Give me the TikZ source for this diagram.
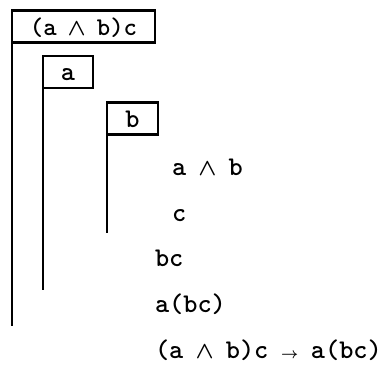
\documentclass[tikz,border=0pt]{standalone}
\usepackage{graphicx}
\usepackage{amsmath}
\newcommand{\wdg}{\makebox[0.525em]{\scalebox{0.95}{$\boldsymbol{\wedge}$}}}
\newcommand{\arr}{\makebox[0.525em]{\scalebox{0.6}{$\boldsymbol{\rightarrow}$}}}
\begin{document}
\begin{tikzpicture}[x=1pt,y=-1pt,
  every node/.style={font=\fontsize{27}{30}\selectfont\ttfamily\bfseries, inner sep=0pt, outer sep=0pt},
  boxn/.style={draw, line width=2.4pt, text height=20pt, text depth=3pt, minimum height=32pt},
  bar/.style={line width=2.8pt},
  txt/.style={anchor=base west}]
\useasboundingbox (0,0) rectangle (386,365);
\node[boxn, minimum width=143pt, font=\fontsize{25.5}{30}\selectfont\ttfamily\bfseries] (b1) at (83.5,26.5) {(a \wdg{} b)c};
\node[boxn, minimum width=50pt] (b2) at (68,72) {a};
\node[boxn, minimum width=51pt] (b3) at (132.5,118.5) {b};
\coordinate (e1) at (12,326);
\coordinate (e2) at (43,290);
\coordinate (e3) at (107,233);
\draw[bar] (b1.south west) -- (e1);
\draw[bar] (b2.south west) -- (e2);
\draw[bar] (b3.south west) -- (e3);
\node[txt] (t1) at (172,175) {a \wdg{} b};
\node[txt] (t2) at (172,221) {c};
\node[txt] (t3) at (155,266) {bc};
\node[txt] (t4) at (155,312) {a(bc)};
\node[txt] (t5) at (155,358) {(a \wdg{} b)c \arr{} a(bc)};
\end{tikzpicture}
\end{document}
